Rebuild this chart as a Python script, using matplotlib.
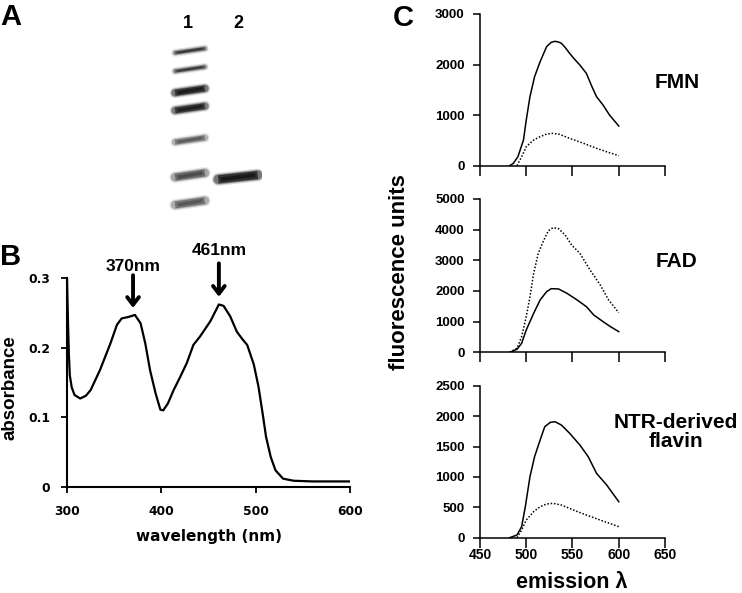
import matplotlib
matplotlib.use("Agg")
import matplotlib.pyplot as plt

W, H = 742, 593
ARIAL = "Liberation Sans"
VERD = "DejaVu Sans"

# ---------------- data ----------------
# Panel A: gel bands (relative migration 0=top,1=bottom), darkness, thickness(px)
lane1_pos = [0.087, 0.189, 0.309, 0.407, 0.583, 0.778, 0.932]
lane1_dark = [0.72, 0.70, 0.95, 0.90, 0.50, 0.58, 0.52]
lane1_thick = [3, 3, 6, 6, 5, 7, 7]
lane2_pos = [0.790]
lane2_dark = [0.97]
lane2_thick = [8]
lane_labels = ["1", "2"]

# Panel B: absorbance spectrum
wl_B = [300, 301, 302, 303, 305, 308, 314, 320, 325, 335, 346, 353, 358, 365, 372,
        378, 383, 388, 394, 399, 402, 407, 413, 420, 427, 434, 441, 452, 461, 466,
        473, 480, 486, 491, 498, 503, 508, 511, 516, 521, 529, 540, 560, 580, 600]
abs_B = [0.300, 0.240, 0.190, 0.160, 0.143, 0.132, 0.127, 0.131, 0.139, 0.168, 0.206,
         0.233, 0.242, 0.244, 0.247, 0.235, 0.206, 0.168, 0.134, 0.111, 0.110, 0.120,
         0.139, 0.158, 0.178, 0.204, 0.216, 0.238, 0.262, 0.260, 0.245, 0.223, 0.212,
         0.204, 0.176, 0.144, 0.100, 0.072, 0.043, 0.024, 0.012, 0.009, 0.008, 0.008,
         0.008]
peaks_B = [370, 461]
peak_labels = ["370nm", "461nm"]

# Panel C: fluorescence emission spectra
fmn_x_solid = [482, 486, 491, 497, 500, 504, 509, 515, 522, 527, 531, 535, 538, 542, 547,
               552, 558, 565, 571, 576, 583, 590, 600]
fmn_y_solid = [0, 46, 178, 508, 903, 1365, 1760, 2057, 2354, 2440, 2460, 2445, 2420, 2340,
               2220, 2110, 1990, 1826, 1563, 1365, 1200, 1002, 785]
fmn_x_dot = [490, 495, 500, 508, 515, 522, 529, 536, 547, 562, 576, 590, 600]
fmn_y_dot = [0, 178, 376, 508, 574, 626, 640, 620, 540, 442, 343, 257, 198]

fad_x_solid = [482, 490, 495, 500, 508, 515, 522, 527, 535, 544, 555, 565, 573, 583, 591, 600]
fad_y_solid = [0, 98, 293, 728, 1272, 1707, 1978, 2076, 2065, 1924, 1707, 1489, 1217,
               1000, 837, 674]
fad_x_dot = [482, 490, 495, 500, 504, 508, 513, 519, 524, 529, 535, 542, 549, 558, 569,
             580, 589, 600]
fad_y_dot = [0, 130, 511, 1163, 1815, 2576, 3228, 3663, 3967, 4065, 4033, 3826, 3500,
             3228, 2685, 2196, 1707, 1293]

ntr_x_solid = [482, 490, 495, 499, 504, 509, 515, 520, 526, 531, 538, 547, 558, 567, 576,
               587, 600]
ntr_y_solid = [0, 44, 181, 510, 1003, 1332, 1606, 1826, 1897, 1908, 1853, 1716, 1524,
               1332, 1058, 866, 592]
ntr_x_dot = [490, 495, 500, 508, 515, 522, 529, 538, 551, 565, 580, 590, 600]
ntr_y_dot = [0, 126, 290, 428, 510, 554, 565, 537, 455, 373, 290, 236, 181]

c_names = ["FMN", "FAD", "NTR-derived\nflavin"]
c_yticks = [[0, 1000, 2000, 3000],
            [0, 1000, 2000, 3000, 4000, 5000],
            [0, 500, 1000, 1500, 2000, 2500]]
c_xticks = [450, 500, 550, 600, 650]
b_xticks = [300, 400, 500, 600]
b_yticks = [0, 0.1, 0.2, 0.3]
b_yticklabels = ["0", "0.1", "0.2", "0.3"]

# ---------------- figure ----------------
fig = plt.figure(figsize=(W / 100, H / 100), dpi=100)


def px(x0, y0, x1, y1):
    return [x0 / W, 1 - y1 / H, (x1 - x0) / W, (y1 - y0) / H]


def ftext(x, y, s, **kw):
    fig.text(x / W, 1 - y / H, s, **kw)


# Panel letters
ftext(0, 25, "A", fontsize=21, fontweight="bold", family=ARIAL, va="baseline")
ftext(0, 265, "B", fontsize=21, fontweight="bold", family=ARIAL, va="baseline")
ftext(393, 26, "C", fontsize=21, fontweight="bold", family=ARIAL, va="baseline")

# ---------------- Panel A: gel ----------------
axA = fig.add_axes(px(166, 35, 262, 215))
axA.set_xlim(0.5, 2.5)
axA.set_ylim(1, 0)
axA.axis("off")
tilt = 0.012
for lane, pos, dark, thick, half in [(1, lane1_pos, lane1_dark, lane1_thick, 0.31),
                                     (2, lane2_pos, lane2_dark, lane2_thick, 0.41)]:
    for p, d, t in zip(pos, dark, thick):
        xs = [lane - half, lane + half]
        ys = [p + tilt, p - tilt]
        for extra, a in [(5, 0.12), (3, 0.2), (1.5, 0.35), (0, 0.6)]:
            axA.plot(xs, ys, color="black", lw=(t + extra) * 0.72, alpha=a * d,
                     solid_capstyle="round" if extra > 0 else "butt")
        axA.plot([xs[0] + 0.05, xs[1] - 0.05], [ys[0], ys[1]], color="black",
                 lw=t * 0.5 * 0.72, alpha=0.5 * d, solid_capstyle="butt")
for i, lab in enumerate(lane_labels):
    axA.text(i + 1 - 0.05 * (i == 0), -0.039, lab, ha="center", va="baseline",
             fontsize=13, fontweight="bold", family=ARIAL, clip_on=False)

# ---------------- Panel B ----------------
axB = fig.add_axes(px(67, 278, 350, 487))
axB.plot(wl_B, abs_B, color="black", lw=1.6)
axB.set_xlim(300, 600)
axB.set_ylim(0, 0.3)
for s in ["top", "right"]:
    axB.spines[s].set_visible(False)
for s in ["left", "bottom"]:
    axB.spines[s].set_linewidth(1.5)
axB.set_xticks(b_xticks)
axB.set_xticklabels([str(v) for v in b_xticks])
axB.set_yticks(b_yticks)
axB.set_yticklabels(b_yticklabels)
axB.tick_params(axis="both", direction="out", length=4, width=1.3, labelsize=8.8)
axB.tick_params(axis="x", pad=9)
axB.tick_params(axis="y", pad=8)
for lab in axB.get_xticklabels() + axB.get_yticklabels():
    lab.set_fontweight("bold")
    lab.set_family(VERD)
ftext(209, 536, "wavelength (nm)", fontsize=11, fontweight="bold", family=VERD,
      ha="center", va="center")
ftext(10, 388, "absorbance", fontsize=13.5, fontweight="bold", family=ARIAL,
      ha="center", va="center", rotation=90)
tips = [0.257, 0.273]
tails = [0.304, 0.321]
txty = [0.316, 0.340]
for pk, lab, tp, tl, ty in zip(peaks_B, peak_labels, tips, tails, txty):
    axB.annotate("", xy=(pk, tp), xytext=(pk, tl),
                 arrowprops=dict(arrowstyle="->,head_length=0.55,head_width=0.42",
                                 lw=2.8, color="black", shrinkA=0, shrinkB=0),
                 annotation_clip=False)
    axB.text(pk, ty, lab, ha="center", va="center", fontsize=12.5, fontweight="bold",
             family=ARIAL, clip_on=False)

# ---------------- Panel C ----------------
c_series = [(fmn_x_solid, fmn_y_solid, fmn_x_dot, fmn_y_dot),
            (fad_x_solid, fad_y_solid, fad_x_dot, fad_y_dot),
            (ntr_x_solid, ntr_y_solid, ntr_x_dot, ntr_y_dot)]
c_pos = [(14, 165.7), (199, 352.3), (385.7, 537.7)]
for i, ((xs, ys, xd, yd), yt, (top, bot)) in enumerate(zip(c_series, c_yticks, c_pos)):
    ax = fig.add_axes(px(480, top, 665, bot))
    ax.plot(xs, ys, color="black", lw=1.1)
    ax.plot(xd, yd, color="black", lw=1.1, linestyle=(0, (1, 1.2)))
    ax.set_xlim(450, 650)
    ax.set_ylim(0, yt[-1])
    for s in ["top", "right"]:
        ax.spines[s].set_visible(False)
    for s in ["left", "bottom"]:
        ax.spines[s].set_linewidth(1.1)
    ax.set_xticks(c_xticks)
    ax.set_yticks(yt)
    ax.set_yticklabels([str(v) for v in yt])
    ax.tick_params(axis="x", direction="out", length=7, width=1.1, pad=0.5, labelsize=10)
    ax.tick_params(axis="y", direction="out", length=5, width=1.1, pad=6, labelsize=9.5)
    if i < 2:
        ax.set_xticklabels([])
    else:
        ax.set_xticklabels([str(v) for v in c_xticks])
    for lab in ax.get_xticklabels() + ax.get_yticklabels():
        lab.set_fontweight("bold")
        lab.set_family(ARIAL)

ftext(676.7, 83, c_names[0], fontsize=15, fontweight="bold", family=ARIAL, ha="center", va="center")
ftext(676.7, 261, c_names[1], fontsize=15, fontweight="bold", family=ARIAL, ha="center", va="center")
ftext(676, 432, c_names[2], fontsize=15, fontweight="bold", family=ARIAL,
      ha="center", va="center", linespacing=1.05)
ftext(400, 272, "fluorescence units", fontsize=16, fontweight="bold", family=ARIAL,
      ha="center", va="center", rotation=90)
ftext(571.5, 583, "emission λ", fontsize=15.5, fontweight="bold", family=ARIAL,
      ha="center", va="center")

fig.savefig("out.png", dpi=100)
